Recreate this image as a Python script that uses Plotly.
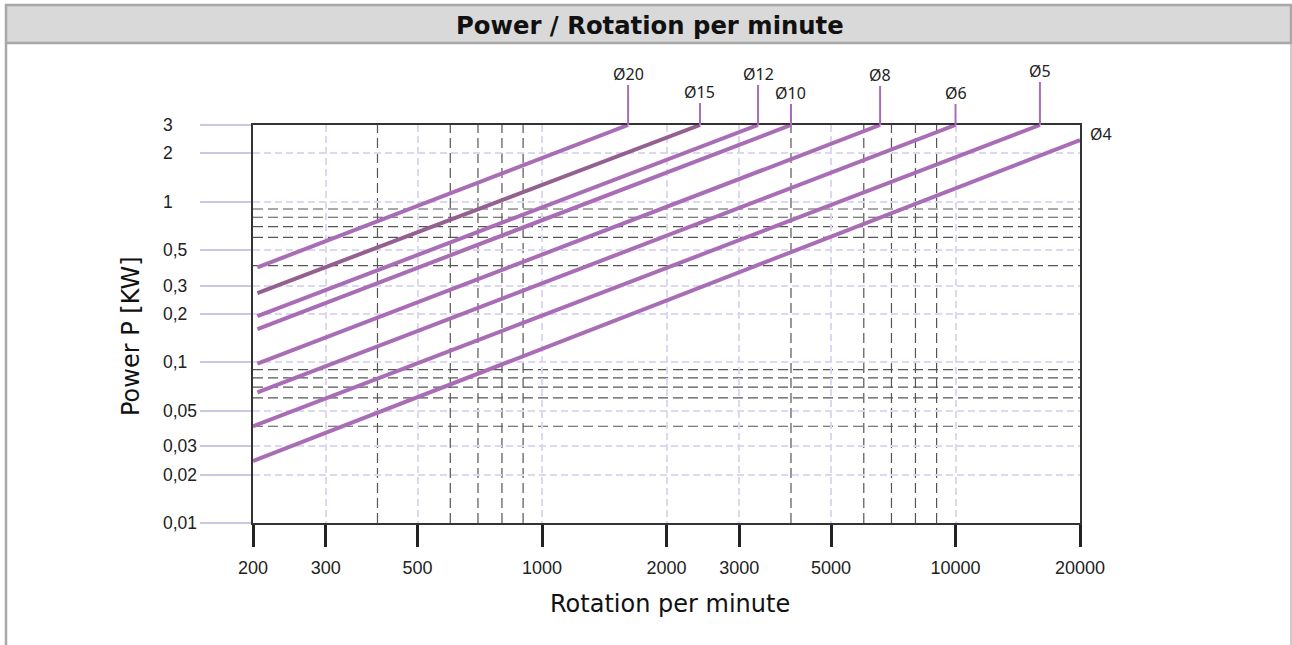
import math
import plotly.graph_objects as go

# ---------------- data ----------------
series_names = ["Ø20", "Ø15", "Ø12", "Ø10", "Ø8", "Ø6", "Ø5", "Ø4"]
rpm_start = [205, 205, 205, 205, 205, 205, 200, 200]
kw_start = [0.39, 0.27, 0.194, 0.161, 0.098, 0.065, 0.040, 0.0243]
rpm_end = [1615, 2410, 3330, 4000, 6570, 10000, 16000, 20000]
kw_end = [3, 3, 3, 3, 3, 3, 3, 2.42]

x_tick_vals = [200, 300, 500, 1000, 2000, 3000, 5000, 10000, 20000]
x_tick_text = ["200", "300", "500", "1000", "2000", "3000", "5000", "10000", "20000"]
y_tick_vals = [0.01, 0.02, 0.03, 0.05, 0.1, 0.2, 0.3, 0.5, 1, 2, 3]
y_tick_text = ["0,01", "0,02", "0,03", "0,05", "0,1", "0,2", "0,3", "0,5", "1", "2", "3"]
x_minor_dark = [400, 600, 700, 800, 900, 4000, 6000, 7000, 8000, 9000]
y_minor_dark = [0.04, 0.06, 0.07, 0.08, 0.09, 0.4, 0.6, 0.7, 0.8, 0.9]

# ---------------- layout constants ----------------
W, H = 1292, 645
PL, PR, PT, PB = 253, 1080, 125, 523
stem_len = [40, 22, 40, 21, 39, 21, 43, 0]   # label stem length in px above the frame

def px_x(px):
    return (px - PL) / (PR - PL)

def px_y(py):
    return (PB - py) / (PB - PT)

PURPLE = "#a96db6"
PURPLE_DARK = "#93608f"
LAV = "#cdc7e6"
LAV_GRID = "#dcd8ef"
DARK = "#555555"

fig = go.Figure()

for i, name in enumerate(series_names):
    col = PURPLE_DARK if name == "Ø15" else PURPLE
    fig.add_trace(go.Scatter(
        x=[rpm_start[i], rpm_end[i]], y=[kw_start[i], kw_end[i]],
        mode="lines", line=dict(color=col, width=4), name=name,
        showlegend=False, hoverinfo="skip", cliponaxis=False,
    ))

shapes = []
annotations = []

# dark dashed reference lines
for v in x_minor_dark:
    shapes.append(dict(type="line", xref="x", yref="paper", x0=v, x1=v, y0=0, y1=1,
                       line=dict(color=DARK, width=1.2, dash="10px,5px"), layer="between"))
for v in y_minor_dark:
    shapes.append(dict(type="line", xref="paper", yref="y", x0=0, x1=1, y0=v, y1=v,
                       line=dict(color=DARK, width=1.2, dash="10px,5px"), layer="between"))

# label stems and labels
for i, name in enumerate(series_names):
    if stem_len[i] > 0:
        top = PT - stem_len[i]
        shapes.append(dict(type="line", xref="x", yref="paper",
                           x0=rpm_end[i], x1=rpm_end[i], y0=1, y1=px_y(top),
                           line=dict(color=PURPLE, width=2), layer="above"))
        annotations.append(dict(x=math.log10(rpm_end[i]), xref="x", y=px_y(top + 2), yref="paper",
                                text=name, showarrow=False, xanchor="center", yanchor="bottom",
                                font=dict(family="Noto Sans", size=16, color="#222222")))
    else:
        annotations.append(dict(x=math.log10(rpm_end[i]), xref="x", y=math.log10(kw_end[i]), yref="y",
                                text=name, showarrow=False, xanchor="left", yanchor="middle",
                                xshift=8, yshift=6,
                                font=dict(family="Noto Sans", size=16, color="#222222")))

# y tick labels (left aligned)
for v, t in zip(y_tick_vals, y_tick_text):
    annotations.append(dict(x=px_x(161), xref="paper", y=math.log10(v), yref="y",
                            text=t, showarrow=False, xanchor="left", yanchor="middle",
                            font=dict(family="Liberation Sans", size=17.5, color="#222222")))

# outer frame and title bar
shapes.append(dict(type="rect", xref="paper", yref="paper",
                   x0=px_x(6), x1=px_x(1291), y0=px_y(43), y1=px_y(5),
                   fillcolor="#d9d9d9", line=dict(color="#a8a8a8", width=2.5), layer="below"))
shapes.append(dict(type="line", xref="paper", yref="paper",
                   x0=px_x(6), x1=px_x(6), y0=px_y(44), y1=px_y(H + 5),
                   line=dict(color="#a8a8a8", width=2.5)))
shapes.append(dict(type="line", xref="paper", yref="paper",
                   x0=px_x(1291), x1=px_x(1291), y0=px_y(44), y1=px_y(H + 5),
                   line=dict(color="#a8a8a8", width=1.2)))

annotations.append(dict(x=px_x(649.5), xref="paper", y=px_y(25), yref="paper",
                        text="<b>Power / Rotation per minute</b>", showarrow=False,
                        xanchor="center", yanchor="middle",
                        font=dict(family="DejaVu Sans", size=24.3, color="#111111")))
annotations.append(dict(x=px_x(670), xref="paper", y=px_y(604), yref="paper",
                        text="Rotation per minute", showarrow=False,
                        xanchor="center", yanchor="middle",
                        font=dict(family="DejaVu Sans", size=24, color="#111111")))
annotations.append(dict(x=px_x(131), xref="paper", y=px_y(336), yref="paper",
                        text="Power P [KW]", showarrow=False, textangle=-90,
                        xanchor="center", yanchor="middle",
                        font=dict(family="DejaVu Sans", size=24, color="#111111")))

fig.update_layout(
    width=W, height=H,
    margin=dict(l=PL, r=W - PR, t=PT, b=H - PB, pad=0),
    paper_bgcolor="white", plot_bgcolor="white",
    shapes=shapes, annotations=annotations,
    showlegend=False,
)

fig.update_xaxes(
    type="log", range=[math.log10(200), math.log10(20000)],
    tickvals=x_tick_vals, ticktext=x_tick_text,
    ticks="outside", ticklen=22, tickwidth=3, tickcolor="#222222",
    tickfont=dict(family="Liberation Sans", size=18, color="#222222"),
    ticklabelstandoff=5,
    showline=True, linecolor="#333333", linewidth=2, mirror=True,
    showgrid=True, gridcolor=LAV_GRID, gridwidth=1.5, griddash="7px,4px",
    zeroline=False,
)
fig.update_yaxes(
    type="log", range=[math.log10(0.01), math.log10(3)],
    tickvals=y_tick_vals, ticktext=y_tick_text, showticklabels=False,
    ticks="outside", ticklen=51, tickwidth=2, tickcolor=LAV,
    showline=True, linecolor="#333333", linewidth=2, mirror=True,
    showgrid=True, gridcolor=LAV_GRID, gridwidth=1.5, griddash="7px,4px",
    zeroline=False,
)

fig.write_html("out.html", config={"displayModeBar": False},
               post_script="document.body.style.margin='0px';")
